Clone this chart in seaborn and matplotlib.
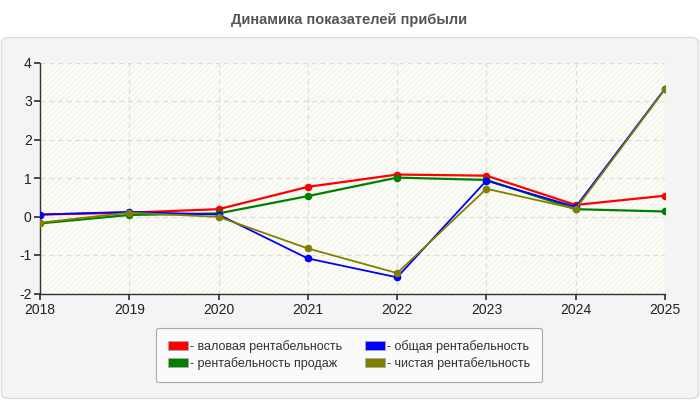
import matplotlib
matplotlib.use("Agg")
import matplotlib.pyplot as plt
from matplotlib.patches import FancyBboxPatch, Rectangle, Patch
import seaborn as sns
import pandas as pd

years = [2018, 2019, 2020, 2021, 2022, 2023, 2024, 2025]
series_names = ["валовая рентабельность", "общая рентабельность",
                "рентабельность продаж", "чистая рентабельность"]
gross = [0.05, 0.10, 0.19, 0.77, 1.09, 1.06, 0.30, 0.54]
total = [0.05, 0.12, 0.05, -1.09, -1.58, 0.93, 0.25, 3.32]
sales = [-0.18, 0.04, 0.08, 0.53, 1.01, 0.95, 0.19, 0.13]
net = [-0.16, 0.10, -0.01, -0.83, -1.47, 0.72, 0.20, 3.30]
colors = ["#ff0000", "#0000ff", "#008000", "#808000"]
title = "Динамика показателей прибыли"

rows = []
for name, vals in zip(series_names, [gross, total, sales, net]):
    for y, v in zip(years, vals):
        rows.append({"year": y, "value": v, "series": name})
df = pd.DataFrame(rows)

sns.set_theme(style="white")
plt.rcParams["font.family"] = ["Liberation Sans", "DejaVu Sans"]
plt.rcParams["axes.unicode_minus"] = False
plt.rcParams["hatch.linewidth"] = 0.8

fig = plt.figure(figsize=(7, 4), dpi=100)
fig.patch.set_facecolor("white")
W, H = 700, 400

# outer panel
panel = FancyBboxPatch((1.5 / W, 1 - 398.5 / H), 697 / W, 361 / H,
                       boxstyle="round,pad=0,rounding_size=0.012",
                       transform=fig.transFigure, facecolor="#f4f4f4",
                       edgecolor="#dcdcdc", linewidth=1, zorder=-5)
fig.patches.append(panel)

fig.text(349 / W, 1 - 20 / H, title, ha="center", va="center",
         fontsize=10.5, fontweight="bold", color="#555555")

x0, x1, y0, y1 = 40, 665, 62.5, 293.5
ax = fig.add_axes([x0 / W, 1 - y1 / H, (x1 - x0) / W, (y1 - y0) / H])
ax.set_zorder(2)
ax.set_facecolor("#fdfdf7")
ax.add_patch(Rectangle((0, 0), 1, 1, transform=ax.transAxes, facecolor="none",
                       edgecolor="#f2f2ec", hatch="//////", linewidth=0, zorder=0))

sns.lineplot(data=df, x="year", y="value", hue="series", hue_order=series_names,
             palette=colors, marker="o", markersize=5.5, markeredgewidth=0,
             linewidth=1.6, legend=False, ax=ax, zorder=3)
lines = ax.get_lines()
for ln, z in zip(lines, [3, 4, 3.5, 5]):
    ln.set_zorder(z)
lines[3].set_linewidth(1.3)
lines[1].set_linewidth(1.3)

ax.set_xlim(2018, 2025)
ax.set_ylim(-2, 4)
ax.set_xticks(years)
ax.set_yticks([-2, -1, 0, 1, 2, 3, 4])
ax.set_xlabel("")
ax.set_ylabel("")
ax.grid(True, linestyle=(0, (4, 3)), color="#dddddd", linewidth=0.9, zorder=1)
ax.set_axisbelow(True)
for s in ["top", "right"]:
    ax.spines[s].set_visible(False)
for s in ["left", "bottom"]:
    ax.spines[s].set_color("#333333")
    ax.spines[s].set_linewidth(1)
ax.tick_params(axis="both", which="both", length=4, color="#333333",
               labelsize=10, labelcolor="#222222", pad=2, direction="out",
               left=True, bottom=True)
ax.tick_params(axis="x", pad=3)

handles = [Patch(facecolor=c, edgecolor="#aaaaaa", linewidth=0.6,
                 label="- " + n) for c, n in zip(colors, series_names)]
order = [0, 2, 1, 3]
leg = fig.legend(handles=[handles[i] for i in order], loc="center",
                 bbox_to_anchor=(349 / W, 1 - 355 / H), ncol=2,
                 fontsize=9, frameon=True, handlelength=1.6, handleheight=0.7,
                 handletextpad=0.2, columnspacing=1.8, labelspacing=0.35,
                 borderpad=0.95, fancybox=True, borderaxespad=0)
leg.set_zorder(3)
frame = leg.get_frame()
frame.set_facecolor("#fafafa")
frame.set_edgecolor("#aaaaaa")
frame.set_linewidth(0.8)
frame.set_alpha(1)
for t in leg.get_texts():
    t.set_color("#333333")

fig.savefig("out.png", dpi=100, facecolor=fig.get_facecolor())
